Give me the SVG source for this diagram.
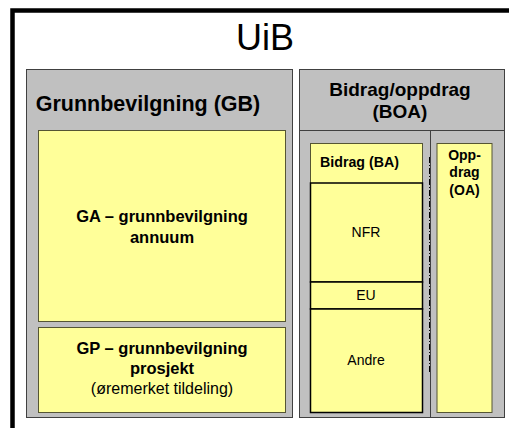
<svg xmlns="http://www.w3.org/2000/svg" width="509" height="428" viewBox="0 0 509 428">
<style>
.gray{fill:#C0C0C0;stroke:#404040;stroke-width:1}
.yel{fill:#FFFF99;stroke:#555533;stroke-width:1}
.blk{fill:#FFFF99;stroke:#000;stroke-width:1.5}
.t{font-family:"Liberation Sans",Arial,sans-serif;fill:#000;text-anchor:middle}
.b{font-weight:bold}
</style>
<rect x="0" y="0" width="509" height="428" fill="#fff"/>
<g id="frame">
<path d="M12.5,428 V10.5 H509" fill="none" stroke="#000" stroke-width="4.5"/>
<text class="t" x="265" y="50" font-size="36">UiB</text>
</g>
<g id="GB">
<rect class="gray" x="26.5" y="69.5" width="266" height="348"/>
<text class="t b" x="148" y="111" font-size="21.5">Grunnbevilgning (GB)</text>
</g>
<g id="GA">
<rect class="yel" x="38.5" y="130.5" width="247" height="191"/>
<text class="t b" x="162" y="222" font-size="16.5">GA – grunnbevilgning</text>
<text class="t b" x="162" y="243" font-size="16.5">annuum</text>
</g>
<g id="GP">
<rect class="yel" x="38.5" y="327.5" width="247" height="85"/>
<text class="t b" x="162" y="354" font-size="16.5">GP – grunnbevilgning</text>
<text class="t b" x="162" y="374" font-size="16.5">prosjekt</text>
<text class="t" x="162" y="394" font-size="16">(øremerket tildeling)</text>
</g>
<g id="BOA">
<rect class="gray" x="299.5" y="69.5" width="205" height="348"/>
<line x1="299.5" y1="130.5" x2="504.5" y2="130.5" stroke="#404040"/>
<line x1="430.5" y1="130.5" x2="430.5" y2="417.5" stroke="#404040"/>
<text class="t b" x="400" y="96" font-size="19">Bidrag/oppdrag</text>
<text class="t b" x="400" y="118" font-size="19">(BOA)</text>
</g>
<g id="BA">
<rect class="yel" x="310.5" y="143.5" width="112" height="269"/>
<text class="t b" x="359.5" y="167" font-size="14.2">Bidrag (BA)</text>
</g>
<g id="NFR">
<rect class="blk" x="310.5" y="183" width="112" height="99"/>
<text class="t" x="366" y="237" font-size="14">NFR</text>
</g>
<g id="EU">
<rect class="blk" x="310.5" y="282" width="112" height="27"/>
<text class="t" x="366" y="300" font-size="14">EU</text>
</g>
<g id="Andre">
<rect class="blk" x="310.5" y="309" width="112" height="103.5"/>
<text class="t" x="366" y="365" font-size="14">Andre</text>
</g>
<g id="connectors">
<line x1="429.5" y1="157" x2="429.5" y2="373" stroke="#000" stroke-width="1" stroke-dasharray="6,2,1,2"/>
</g>
<g id="OA">
<rect class="yel" x="437" y="143.5" width="55" height="269" stroke="#888866"/>
<text class="t b" x="464.5" y="160" font-size="14">Opp-</text>
<text class="t b" x="464.5" y="177" font-size="14">drag</text>
<text class="t b" x="464.5" y="195" font-size="14">(OA)</text>
</g>
</svg>
